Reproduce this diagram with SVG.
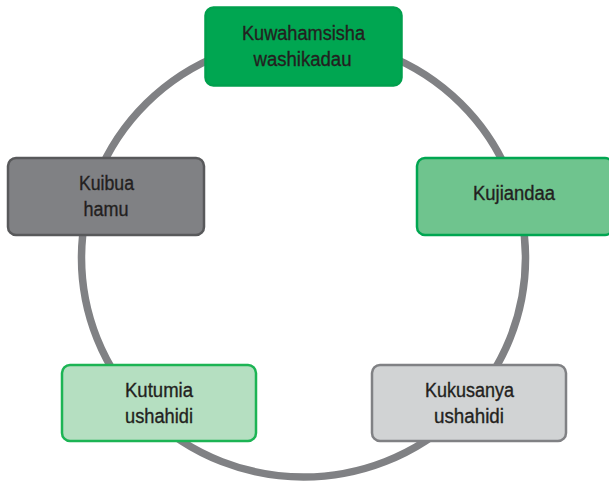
<svg xmlns="http://www.w3.org/2000/svg" width="609" height="483" viewBox="0 0 609 483">
<style>
.lbl{font-family:"Liberation Sans",Arial,sans-serif;font-size:20px;fill:#231f20;text-anchor:middle;stroke:#231f20;stroke-width:0.35}
.box{stroke-width:2.5}
</style>
<rect width="609" height="483" fill="#ffffff"/>
<g id="connectors">
<ellipse cx="303.5" cy="258" rx="222" ry="219" fill="none" stroke="#808184" stroke-width="7.5"/>
</g>
<g id="node-top">
<rect class="box" x="205.5" y="7.5" width="196" height="78" rx="8" fill="#00a651" stroke="#00a04d"/>
<text class="lbl" x="303.5" y="39.5" textLength="123" lengthAdjust="spacingAndGlyphs">Kuwahamsisha</text>
<text class="lbl" x="302.5" y="65.5" textLength="98" lengthAdjust="spacingAndGlyphs">washikadau</text>
</g>
<g id="node-right">
<rect class="box" x="417" y="158" width="196" height="77" rx="8" fill="#6fc48e" stroke="#00a651"/>
<text class="lbl" x="514" y="200" textLength="82" lengthAdjust="spacingAndGlyphs">Kujiandaa</text>
</g>
<g id="node-bottom-right">
<rect class="box" x="372" y="365" width="194" height="76" rx="8" fill="#d1d3d4" stroke="#808184"/>
<text class="lbl" x="469.5" y="396.5" textLength="89" lengthAdjust="spacingAndGlyphs">Kukusanya</text>
<text class="lbl" x="469" y="423" textLength="70" lengthAdjust="spacingAndGlyphs">ushahidi</text>
</g>
<g id="node-bottom-left">
<rect class="box" x="62" y="365" width="194" height="76" rx="8" fill="#b5dfc1" stroke="#1cb454"/>
<text class="lbl" x="159" y="396.5" textLength="68" lengthAdjust="spacingAndGlyphs">Kutumia</text>
<text class="lbl" x="159" y="423" textLength="68" lengthAdjust="spacingAndGlyphs">ushahidi</text>
</g>
<g id="node-left">
<rect class="box" x="8" y="158" width="196" height="77" rx="8" fill="#808184" stroke="#58595b"/>
<text class="lbl" x="106.5" y="190" textLength="55" lengthAdjust="spacingAndGlyphs">Kuibua</text>
<text class="lbl" x="106" y="215.5" textLength="45" lengthAdjust="spacingAndGlyphs">hamu</text>
</g>
</svg>
